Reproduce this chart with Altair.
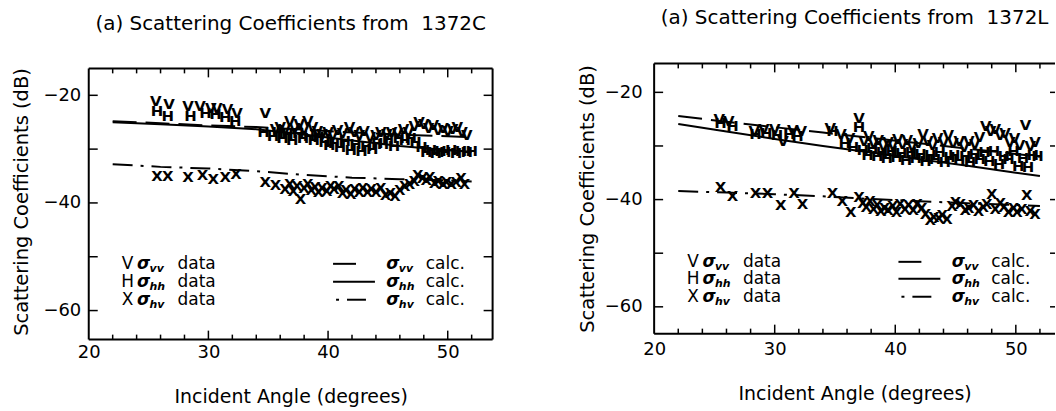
import altair as alt
import pandas as pd

FONT = "DejaVu Sans"

# ---------------- Left panel: 1372C ----------------
C_vv_ang = [25.6, 26.7, 28.3, 29.3, 30.2, 30.7, 31.6, 32.4, 34.75,
            35.6, 36.0, 36.4, 36.8, 37.2, 37.6, 38.0, 38.3, 38.7, 39.1, 39.5, 40.0, 40.4, 40.8,
            41.2, 41.8, 42.2, 42.6, 43.0, 43.5, 44.0, 44.4, 44.9, 45.3, 45.8, 46.3, 46.7, 47.2,
            47.6, 48.0, 48.4, 48.8, 49.2, 49.6, 50.0, 50.4, 50.8, 51.2, 51.6]
C_vv_db = [-21.0, -21.7, -21.9, -21.9, -22.3, -22.3, -22.6, -23.2, -23.2,
           -26.2, -25.8, -26.5, -24.8, -26.0, -25.4, -26.3, -24.8, -25.9, -26.6, -27.2, -26.9, -27.4, -26.5,
           -27.0, -25.9, -26.8, -27.3, -26.6, -27.8, -27.4, -26.9, -27.2, -26.8, -27.0, -26.2, -26.9, -25.7,
           -24.9, -25.3, -26.0, -25.5, -26.4, -26.0, -26.7, -26.2, -25.8, -26.9, -27.3]

C_hh_ang = [25.7, 26.6, 28.5, 29.75, 30.6, 31.4, 32.25, 34.6,
            35.4, 35.8, 36.2, 36.6, 37.0, 37.5, 37.9, 38.4, 38.8, 39.2, 39.7, 40.1, 40.5, 41.0,
            41.4, 41.9, 42.3, 42.8, 43.2, 43.7, 44.1, 44.6, 45.0, 45.5, 45.9, 46.4, 46.9, 47.3,
            47.8, 48.2, 48.6, 49.0, 49.4, 49.8, 50.3, 50.7, 51.1, 51.6, 52.0]
C_hh_db = [-22.9, -23.8, -23.8, -23.2, -23.5, -24.1, -24.7, -26.9,
           -27.5, -26.8, -27.9, -27.2, -28.3, -27.0, -28.0, -27.6, -28.4, -27.8, -28.6, -29.2, -28.8, -29.6,
           -28.5, -30.2, -29.0, -30.3, -29.4, -30.0, -28.8, -29.1, -28.2, -29.5, -28.0, -28.4, -27.9, -28.6,
           -29.6, -30.6, -30.1, -30.8, -30.3, -30.6, -30.2, -30.7, -30.4, -30.5, -30.3]

C_hv_ang = [25.7, 26.6, 28.3, 29.5, 30.4, 31.4, 32.3, 34.75, 35.6, 36.4,
            36.8, 37.1, 37.4, 37.7, 38.0, 38.3, 38.6, 38.9, 39.2, 39.5, 39.9, 40.2, 40.5, 40.9,
            41.2, 41.5, 41.9, 42.2, 42.6, 42.9, 43.3, 43.6, 44.0, 44.4, 44.8, 45.2, 45.6, 46.0,
            46.4, 46.8, 47.2, 47.5, 47.9, 48.2, 48.5, 48.9, 49.2, 49.6, 49.9, 50.3, 50.7, 51.1, 51.4]
C_hv_db = [-35.0, -35.0, -35.2, -34.9, -35.6, -35.2, -34.6, -36.2, -36.7, -37.4,
           -36.5, -37.8, -36.9, -39.3, -37.2, -36.4, -37.6, -37.0, -38.0, -37.3, -37.8, -36.9, -37.5, -36.8,
           -38.2, -37.6, -38.4, -37.4, -38.0, -37.2, -37.9, -37.5, -37.9, -37.2, -38.6, -38.1, -38.7, -37.6,
           -36.9, -36.4, -36.0, -34.9, -35.4, -35.8, -35.2, -36.3, -36.0, -36.4, -36.2, -36.5, -36.1, -35.3, -36.4]

C_calc_ang = [22, 26, 30, 34, 38, 42, 46, 50, 52]
C_calc_vv = [-24.8, -25.2, -25.6, -25.9, -26.4, -26.9, -27.3, -27.6, -27.8]
C_calc_hh = [-25.0, -25.4, -25.8, -26.3, -27.3, -28.4, -29.4, -30.2, -30.5]
C_calc_hv = [-32.8, -33.3, -33.6, -34.1, -34.8, -35.3, -35.6, -35.8, -36.0]

# ---------------- Right panel: 1372L ----------------
L_vv_ang = [25.4, 26.2, 28.3, 29.1, 30.0, 30.7, 31.5, 32.2, 34.6, 35.5, 36.2, 37.0,
            37.4, 37.8, 38.2, 38.6, 39.0, 39.4, 39.8, 40.2, 40.6, 41.0, 41.4, 41.9, 42.3,
            42.7, 43.1, 43.5, 44.0, 44.4, 44.8, 45.3, 45.7, 46.1, 46.6, 47.0, 47.5, 47.9,
            48.3, 48.7, 49.1, 49.5, 49.9, 50.3, 50.8, 51.2, 51.6]
L_vv_db = [-25.0, -25.4, -27.2, -26.8, -26.9, -29.0, -27.0, -27.3, -26.6, -27.8, -28.5, -24.8,
           -29.0, -28.2, -29.5, -28.8, -30.0, -29.2, -29.8, -28.7, -29.6, -28.9, -30.1, -29.4, -27.8,
           -29.0, -29.9, -28.6, -29.3, -27.9, -29.5, -29.1, -30.2, -29.0, -29.6, -28.4, -26.3, -27.2,
           -26.8, -28.0, -27.5, -29.2, -28.6, -29.8, -26.1, -30.0, -29.3]

L_hh_ang = [25.5, 26.5, 28.4, 29.3, 30.2, 31.2, 31.9, 34.8, 35.8, 36.5, 37.0,
            37.3, 37.7, 38.1, 38.5, 38.9, 39.3, 39.7, 40.1, 40.5, 40.9, 41.3, 41.7, 42.1,
            42.5, 42.9, 43.3, 43.7, 44.1, 44.5, 44.9, 45.3, 45.8, 46.2, 46.6, 47.0, 47.4,
            47.8, 48.2, 48.6, 49.0, 49.4, 49.8, 50.2, 50.6, 51.0, 51.4, 51.8]
L_hh_db = [-25.8, -26.3, -27.8, -27.6, -28.0, -27.8, -28.1, -27.3, -29.4, -30.2, -26.5,
           -30.8, -31.6, -30.4, -31.9, -31.2, -32.3, -31.0, -32.0, -31.4, -32.6, -31.1, -32.2, -31.5,
           -32.8, -31.7, -32.4, -31.2, -33.0, -32.1, -31.6, -32.7, -31.8, -32.9, -31.5, -32.4, -31.2,
           -32.8, -31.0, -33.3, -31.8, -32.5, -30.9, -33.8, -32.2, -33.9, -31.6, -31.9]

L_hv_ang = [25.5, 26.5, 28.4, 29.4, 30.5, 31.6, 32.3, 34.8, 35.6, 36.3, 37.0,
            37.3, 37.6, 37.9, 38.2, 38.5, 38.8, 39.1, 39.4, 39.8, 40.1, 40.4, 40.8, 41.1,
            41.5, 41.8, 42.2, 42.5, 42.9, 43.2, 43.6, 43.9, 44.3, 44.7, 45.0, 45.4, 45.8,
            46.1, 46.5, 46.9, 47.3, 47.6, 48.0, 48.3, 48.7, 49.0, 49.4, 49.8, 50.1, 50.5,
            50.9, 51.2, 51.6]
L_hv_db = [-37.7, -39.4, -38.7, -38.7, -41.0, -38.7, -40.8, -38.7, -40.2, -42.3, -39.5,
           -40.6, -41.4, -40.2, -41.8, -41.0, -42.2, -41.5, -42.0, -41.2, -42.4, -40.9, -41.7, -41.0,
           -41.9, -40.8, -41.6, -42.6, -43.9, -43.2, -43.5, -42.8, -43.6, -41.2, -40.4, -40.8, -42.0,
           -41.6, -41.0, -42.1, -41.4, -40.8, -38.9, -41.7, -40.6, -41.3, -42.3, -41.6, -42.4, -41.8,
           -39.2, -42.2, -42.6]

L_calc_ang = [22, 26, 30, 34, 38, 42, 46, 50, 52]
L_calc_vv = [-24.4, -25.5, -26.5, -27.5, -28.5, -29.5, -30.5, -31.5, -32.0]
L_calc_hh = [-25.9, -27.3, -28.7, -30.0, -31.2, -32.5, -33.7, -35.0, -35.6]
L_calc_hv = [-38.4, -38.7, -39.0, -39.4, -39.9, -40.3, -40.7, -41.0, -41.2]

# axis tick values
X_LABELS = [20, 30, 40, 50]
X_MINOR = [22, 24, 26, 28, 32, 34, 36, 38, 42, 44, 46, 48, 52]
X_MAJOR = [30, 40, 50]
Y_LABELS = [-60, -40, -20]
Y_TICKS = [-60, -50, -40, -30, -20]

ONE = pd.DataFrame({"k": [0]})


def txt(px, py, s, size, align="left", style="normal", weight="normal", dy=0):
    return alt.Chart(ONE).mark_text(
        text=s, fontSize=size, align=align, baseline="middle", font=FONT,
        fontStyle=style, fontWeight=weight, dy=dy, color="black"
    ).encode(x=alt.value(px), y=alt.value(py))


def seg(x1, x2, y, sw=2):
    return alt.Chart(ONE).mark_rule(color="black", strokeWidth=sw).encode(
        x=alt.value(x1), x2=alt.value(x2), y=alt.value(y))


def vseg(x, y1, y2, sw=2):
    return alt.Chart(ONE).mark_rule(color="black", strokeWidth=sw).encode(
        x=alt.value(x), y=alt.value(y1), y2=alt.value(y2))


def panel(title, vv, hh, hv, calc, xdom, ydom, w, h, top, xlabpad, ylabpad,
          ytitlepad, xtitlepad, rows, right_border, title_dy):
    # 'top' = blank strip above the frame (the frame starts at y=top)
    xs = alt.Scale(domain=xdom, nice=False, zero=False)
    ys = alt.Scale(domain=ydom, nice=False, zero=False)
    xaxis = alt.Axis(values=X_LABELS, ticks=False, domain=False, grid=False,
                     labelPadding=xlabpad, labelFlush=False, labelFontSize=18,
                     labelFont=FONT, labelColor="black", format="d",
                     title="Incident Angle (degrees)", titleFont=FONT,
                     titleFontSize=19, titleFontWeight="normal", titleColor="black",
                     titlePadding=xtitlepad)
    yaxis = alt.Axis(values=Y_LABELS, ticks=False, domain=False, grid=False,
                     labelPadding=ylabpad, labelFlush=False, labelFontSize=18,
                     labelFont=FONT, labelColor="black", format="d",
                     title="Scattering Coefficients (dB)", titleFont=FONT,
                     titleFontSize=19.5, titleFontWeight="normal", titleColor="black",
                     titlePadding=ytitlepad)

    def X(field):
        return alt.X(field, scale=xs, axis=xaxis)

    def Y(field):
        return alt.Y(field, scale=ys, axis=yaxis)

    recs = []
    for sym, (a, d) in zip(["V", "H", "X"], [vv, hh, hv]):
        for ai, di in zip(a, d):
            recs.append({"ang": ai, "db": di, "sym": sym})
    pts = alt.Chart(pd.DataFrame(recs)).mark_text(
        font=FONT, fontSize=15, fontWeight="bold", color="black", baseline="middle"
    ).encode(x=X("ang:Q"), y=Y("db:Q"), text="sym:N")

    layers = [pts]
    ang, cvv, chh, chv = calc
    for vals, dash in [(chh, None), (cvv, [24, 9]), (chv, [20, 8, 3, 8])]:
        df = pd.DataFrame({"ang": ang, "db": vals})
        kw = dict(color="black", strokeWidth=2)
        if dash:
            kw["strokeDash"] = dash
        layers.append(alt.Chart(df).mark_line(**kw).encode(x=X("ang:Q"), y=Y("db:Q")))

    # inside ticks
    for vals, ln in [(X_MINOR, 5), (X_MAJOR, 9)]:
        df = pd.DataFrame({"ang": vals})
        base = alt.Chart(df).mark_rule(color="black", strokeWidth=1.5)
        layers.append(base.encode(x=X("ang:Q"), y=alt.value(h), y2=alt.value(h - ln)))
        layers.append(base.encode(x=X("ang:Q"), y=alt.value(top), y2=alt.value(top + ln)))
    ydf = pd.DataFrame({"db": Y_TICKS})
    ybase = alt.Chart(ydf).mark_rule(color="black", strokeWidth=1.5)
    layers.append(ybase.encode(y=Y("db:Q"), x=alt.value(0), x2=alt.value(9)))
    layers.append(ybase.encode(y=Y("db:Q"),
                               x=alt.value(w - 9 if right_border else w - 5), x2=alt.value(w)))

    # frame
    layers.append(seg(0, w, top))
    layers.append(seg(0, w, h))
    layers.append(vseg(0, top, h))
    if right_border:
        layers.append(vseg(w, top, h))

    # legend
    names = [("V", "vv"), ("H", "hh"), ("X", "hv")]
    for (sym, sub), ry in zip(names, rows):
        layers.append(txt(39, ry, sym, 17, align="center"))
        layers.append(txt(55, ry, "σ", 17, align="center", style="italic", weight="bold"))
        layers.append(txt(61, ry, sub, 11, style="italic", weight="bold", dy=5))
        layers.append(txt(89, ry, "data", 17))
        layers.append(txt(305, ry, "σ", 17, align="center", style="italic", weight="bold"))
        layers.append(txt(311, ry, sub, 11, style="italic", weight="bold", dy=5))
        layers.append(txt(338, ry, "calc.", 17))
    layers.append(seg(245, 268, rows[0]))
    layers.append(seg(245, 287, rows[1]))
    layers.append(seg(248, 251, rows[2]))
    layers.append(seg(259, 278, rows[2]))

    tp = dict(font=FONT, fontSize=20, fontWeight="normal", anchor="middle",
              offset=35, color="black")
    if title_dy:
        tp["dy"] = title_dy
    return alt.layer(*layers).properties(
        width=w, height=h, title=alt.TitleParams(title, **tp))


left = panel("(a) Scattering Coefficients from \u00a01372C",
             (C_vv_ang, C_vv_db), (C_hh_ang, C_hh_db), (C_hv_ang, C_hv_db),
             (C_calc_ang, C_calc_vv, C_calc_hh, C_calc_hv),
             [20, 53.75], [-65.4, -14.07], 405, 277, 5, 4, 8, 11, 26,
             [201, 219, 237], True, 6)
right = panel("(a) Scattering Coefficients from \u00a01372L",
              (L_vv_ang, L_vv_db), (L_hh_ang, L_hh_db), (L_hv_ang, L_hv_db),
              (L_calc_ang, L_calc_vv, L_calc_hh, L_calc_hv),
              [20, 53.25], [-65, -14.6], 402, 271, 0, 7, 12, 7, 26,
              [199, 216, 234], False, 0)

chart = alt.concat(left, right, columns=2, spacing=84).properties(
    padding={"left": 12, "top": 7, "right": 0, "bottom": 0},
    background="white",
).configure_view(stroke=None)

chart.save("out.html", embed_options={"renderer": "svg", "actions": False})
